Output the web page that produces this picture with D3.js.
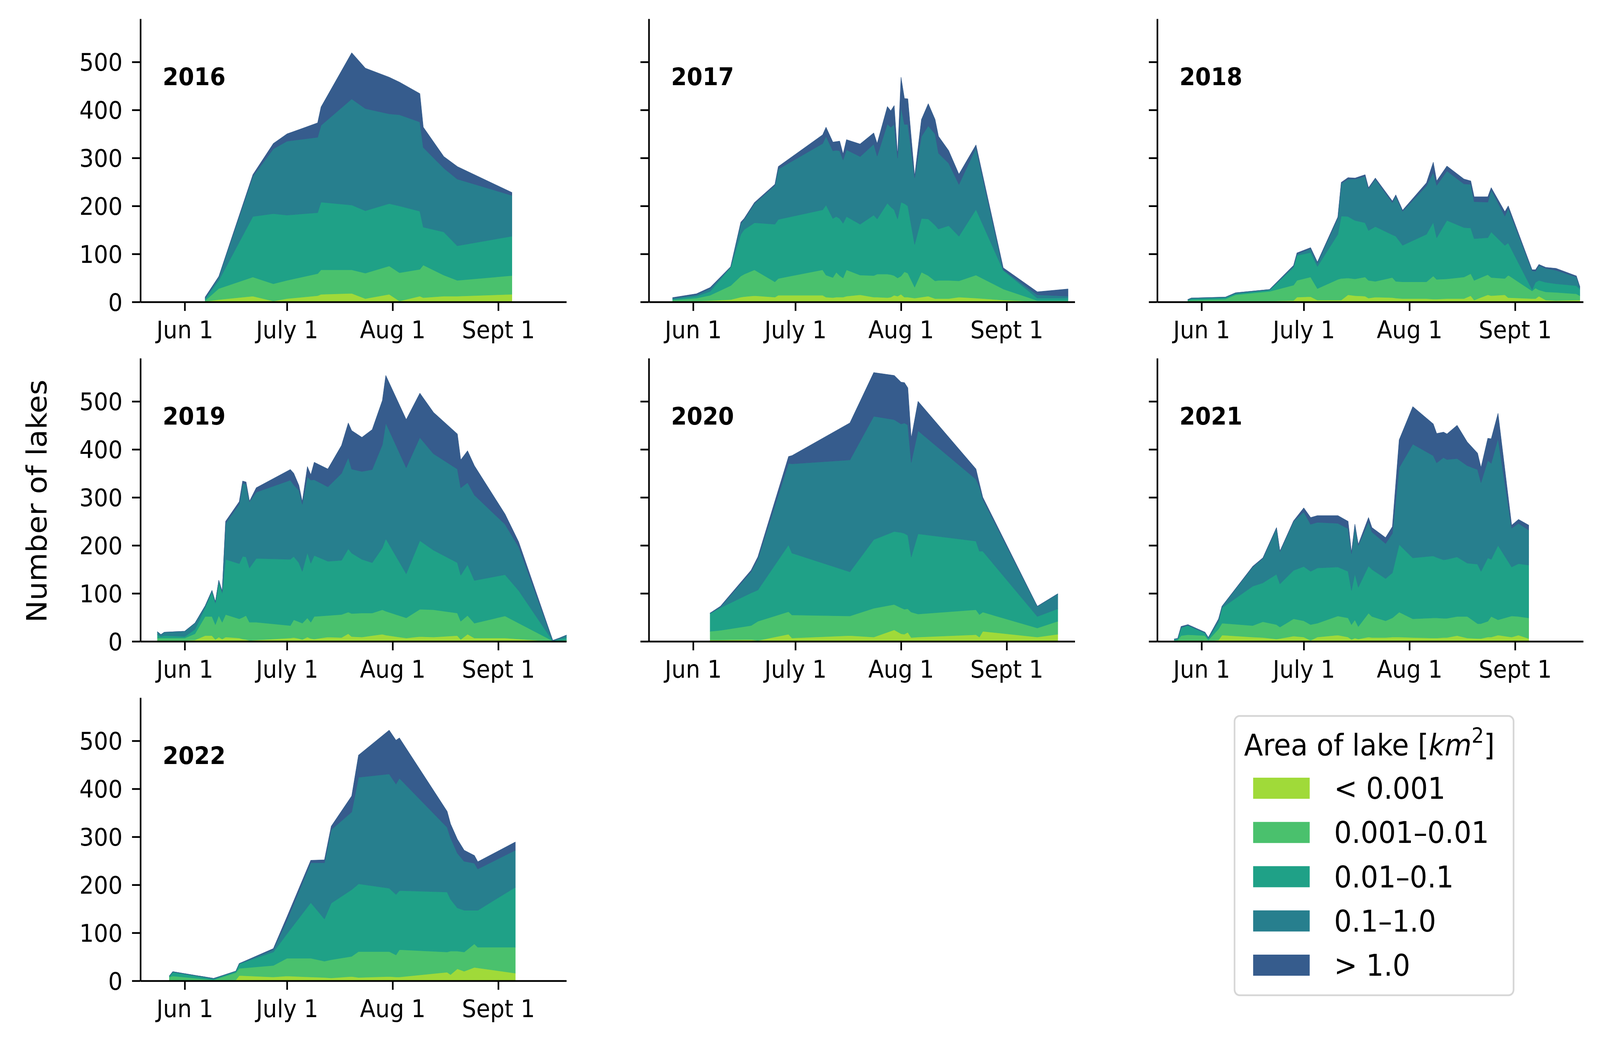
<!DOCTYPE html>
<html>
<head>
<meta charset="utf-8">
<script src="https://cdn.jsdelivr.net/npm/d3@7/dist/d3.min.js"></script>
<style>
  html, body { margin: 0; padding: 0; background: #fff; overflow: hidden; }
  svg { display: block; width: 100vw; height: 100vh; font-family: "DejaVu Sans", sans-serif; }
</style>
</head>
<body>
<svg id="chart" viewBox="0 0 4387 2660" preserveAspectRatio="none"></svg>
<script>
// Lake counts per area class, one stack panel per melt season.
// Days are counted from June 1 (0 = Jun 1, 30 = July 1, 61 = Aug 1, 92 = Sept 1).

const classes = ["< 0.001", "0.001–0.01", "0.01–0.1", "0.1–1.0", "> 1.0"];
const classColors = ["#a0da39", "#4ac16d", "#1fa187", "#277f8e", "#365c8d"];

const monthTicks = [0, 30, 61, 92];
const monthLabels = ["Jun 1", "July 1", "Aug 1", "Sept 1"];
const countTicks = [0, 100, 200, 300, 400, 500];
const dayDomain = [-13, 112];
const countDomain = [0, 590];

// each row: [< 0.001, 0.001–0.01, 0.01–0.1, 0.1–1.0, > 1.0]
const days2016 = [6, 10, 20, 26, 30, 39, 40, 49, 53, 60, 63, 69, 70, 76, 80, 96];
const lakes2016 = [
  [1, 2, 3, 2, 2], [5, 23, 17, 7, 1], [12, 40, 126, 84, 3], [2, 36, 146, 135, 11],
  [7, 38, 136, 154, 15], [13, 46, 127, 157, 30], [16, 51, 141, 160, 38], [18, 49, 135, 221, 96],
  [7, 53, 130, 213, 84], [16, 59, 130, 187, 76], [2, 59, 139, 190, 68], [12, 56, 121, 186, 59],
  [9, 68, 79, 166, 42], [12, 44, 90, 133, 24], [12, 33, 72, 139, 26], [16, 39, 82, 85, 6]
];

const days2017 = [-6, 1, 5, 11, 14, 15, 18, 24, 25, 38, 39, 41, 42, 43, 44, 45, 49, 53, 54, 57, 58,
  59, 60, 61, 62, 63, 65, 67, 69, 71, 72, 75, 78, 83, 91, 101, 110];
const lakes2017 = [
  [1, 3, 2, 2, 1], [2, 6, 4, 3, 2], [3, 11, 8, 6, 2], [5, 29, 38, 1, 0], [10, 44, 87, 23, 2],
  [11, 47, 93, 21, 2], [13, 54, 98, 40, 2], [10, 32, 120, 81, 2], [14, 35, 123, 105, 5],
  [14, 53, 125, 138, 18], [10, 46, 146, 143, 19], [9, 42, 123, 141, 18], [10, 52, 116, 138, 18],
  [10, 45, 119, 141, 20], [10, 40, 114, 132, 12], [12, 55, 111, 139, 21], [15, 41, 106, 141, 26],
  [10, 45, 126, 148, 23], [10, 48, 115, 131, 26], [9, 49, 148, 165, 36], [10, 47, 141, 166, 34],
  [14, 41, 137, 178, 39], [12, 38, 123, 127, 5], [16, 38, 154, 198, 62], [10, 53, 142, 165, 54],
  [10, 50, 140, 170, 53], [8, 23, 89, 139, 3], [10, 52, 112, 171, 35], [12, 43, 118, 194, 46],
  [7, 37, 116, 190, 30], [7, 38, 107, 158, 35], [7, 38, 114, 130, 26], [10, 34, 93, 108, 21],
  [8, 48, 137, 128, 6], [4, 23, 39, 1, 4], [1, 2, 5, 7, 6], [1, 2, 5, 4, 15]
];

const days2018 = [-4, -3, 7, 10, 20, 27, 28, 32, 34, 40, 41, 43, 45, 48, 49, 51, 56, 57, 59, 66, 68,
  69, 72, 77, 79, 80, 84, 85, 89, 90, 97, 98, 99, 101, 104, 110, 111];
const lakes2018 = [
  [1, 2, 1, 1, 0], [1, 3, 3, 1, 0], [1, 5, 3, 1, 0], [2, 13, 2, 2, 0], [2, 20, 3, 1, 0],
  [3, 32, 37, 3, 1], [10, 35, 52, 3, 2], [11, 41, 51, 8, 2], [4, 24, 46, 7, 2], [4, 43, 94, 34, 2],
  [4, 45, 130, 68, 2], [15, 35, 128, 78, 3], [13, 35, 122, 86, 2], [12, 40, 113, 97, 3],
  [8, 37, 104, 87, 2], [10, 33, 114, 99, 2], [9, 42, 89, 67, 3], [8, 35, 94, 83, 3], [7, 35, 76, 71, 2],
  [7, 35, 99, 101, 6], [6, 48, 112, 104, 21], [6, 41, 87, 109, 9], [7, 41, 122, 103, 10],
  [7, 45, 103, 91, 10], [13, 46, 95, 91, 7], [4, 41, 87, 77, 10], [15, 42, 77, 74, 11],
  [13, 38, 95, 88, 4], [15, 34, 69, 61, 9], [9, 47, 67, 72, 5], [7, 16, 3, 39, 2], [7, 22, 12, 23, 3],
  [12, 13, 20, 31, 2], [4, 17, 20, 29, 2], [3, 17, 18, 28, 4], [4, 13, 17, 18, 2], [4, 9, 14, 4, 1]
];

const days2019 = [-8, -7, -6, 0, 3, 6, 8, 9, 10, 11, 12, 16, 17, 18, 19, 21, 31, 32, 33.5, 34.5, 36,
  37, 38, 42, 46, 48, 49, 52, 55, 58, 59, 65, 69, 73, 80, 81, 83, 85, 94, 98, 108, 110, 112];
const lakes2019 = [
  [2, 5, 7, 6, 0], [2, 5, 3, 4, 0], [2, 5, 5, 7, 0], [2, 5, 3, 11, 0], [3, 13, 9, 13, 0],
  [12, 40, 18, 4, 0], [12, 40, 51, 3, 0], [4, 31, 45, 2, 0], [9, 45, 70, 3, 0], [5, 35, 61, 3, 0],
  [9, 47, 115, 75, 4], [7, 40, 115, 124, 5], [5, 45, 127, 152, 5], [4, 50, 122, 152, 4],
  [2, 38, 113, 138, 1], [3, 37, 133, 138, 9], [7, 26, 138, 165, 22], [8, 37, 132, 149, 24],
  [6, 35, 123, 151, 10], [4, 34, 108, 140, 5], [9, 40, 136, 158, 21], [6, 34, 123, 173, 11],
  [5, 47, 127, 158, 36], [9, 45, 113, 155, 37], [8, 48, 113, 181, 58], [16, 45, 132, 190, 72],
  [10, 48, 126, 175, 80], [9, 50, 112, 183, 71], [12, 47, 105, 194, 83], [15, 51, 129, 215, 92],
  [13, 50, 151, 241, 99], [7, 42, 92, 221, 100], [10, 57, 143, 215, 92], [9, 57, 124, 201, 86],
  [12, 47, 105, 195, 73], [4, 38, 96, 182, 58], [15, 39, 106, 171, 66], [7, 31, 89, 178, 61],
  [7, 46, 86, 105, 21], [5, 33, 68, 91, 10], [0, 1, 0, 1, 0], [0, 2, 3, 2, 0], [0, 3, 5, 5, 0]
];

const days2020 = [5, 8, 17, 19, 28, 29, 46, 53, 59, 61, 62, 63, 64, 66, 83, 84, 85, 101, 107];
const lakes2020 = [
  [3, 18, 37, 1, 0], [3, 20, 47, 2, 1], [4, 29, 68, 44, 3], [2, 40, 65, 65, 4], [15, 47, 139, 170, 14],
  [7, 48, 129, 186, 17], [12, 41, 92, 233, 77], [9, 60, 143, 257, 91], [24, 53, 152, 233, 92],
  [16, 54, 157, 226, 87], [15, 52, 158, 230, 84], [19, 49, 153, 230, 77], [8, 53, 115, 197, 50],
  [9, 48, 167, 215, 61], [14, 52, 143, 129, 21], [9, 47, 132, 134, 7], [21, 40, 127, 108, 4],
  [9, 19, 24, 21, 0], [15, 27, 26, 31, 0]
];

const days2021 = [-8, -7, -6, -4, 1, 2, 5, 6, 15, 18, 22, 23, 27, 30, 32, 34, 40, 43, 44, 45, 46, 49,
  50, 54, 56, 58, 62, 68, 69, 71, 72, 75, 78, 81, 82, 84, 85, 87, 91, 93, 96];
const lakes2021 = [
  [1, 1, 2, 1, 0], [1, 2, 2, 1, 0], [2, 10, 16, 2, 1], [2, 12, 19, 1, 1], [2, 10, 5, 2, 0],
  [1, 2, 3, 2, 0], [3, 23, 14, 6, 1], [13, 25, 32, 3, 0], [9, 24, 82, 40, 1], [8, 33, 81, 51, 1],
  [5, 30, 105, 96, 1], [6, 24, 90, 67, 1], [11, 36, 101, 102, 1], [9, 34, 113, 114, 8],
  [2, 33, 111, 98, 14], [9, 29, 115, 95, 14], [13, 40, 102, 91, 16], [9, 40, 97, 89, 15],
  [4, 31, 71, 77, 2], [7, 38, 96, 99, 4], [5, 26, 82, 87, 2], [9, 50, 98, 92, 9], [8, 44, 98, 78, 9],
  [8, 35, 88, 73, 12], [9, 40, 94, 82, 14], [9, 52, 141, 160, 58], [8, 39, 127, 237, 78],
  [7, 42, 129, 209, 66], [7, 42, 126, 197, 61], [8, 40, 122, 213, 53], [8, 40, 123, 208, 53],
  [12, 40, 124, 205, 69], [7, 45, 111, 203, 49], [6, 31, 124, 197, 34], [6, 31, 109, 185, 31],
  [9, 33, 132, 203, 46], [9, 43, 119, 200, 51], [13, 32, 155, 223, 52], [9, 44, 102, 81, 6],
  [13, 39, 110, 84, 8], [6, 43, 110, 73, 10]
];

const days2022 = [-4.5, -3.5, 8.5, 15, 16, 26, 30, 37, 41, 43, 49, 51, 60, 62, 63, 77, 78, 80, 82, 85, 86, 97];
const lakes2022 = [
  [1, 7, 2, 0, 0], [1, 9, 8, 1, 0], [0, 2, 2, 1, 0], [2, 15, 3, 0, 0], [11, 15, 9, 1, 0],
  [8, 24, 28, 5, 2], [10, 37, 51, 28, 7], [8, 39, 116, 83, 5], [7, 34, 88, 117, 6],
  [6, 38, 118, 153, 7], [9, 42, 139, 162, 33], [7, 54, 141, 222, 46], [9, 52, 132, 238, 91],
  [8, 46, 126, 230, 91], [8, 57, 123, 234, 84], [18, 42, 125, 135, 33], [13, 49, 108, 128, 29],
  [25, 37, 90, 114, 29], [20, 40, 87, 102, 23], [28, 49, 70, 98, 16], [27, 43, 77, 86, 15],
  [16, 54, 125, 77, 17]
];

const panels = [
  { year: "2016", days: days2016, lakes: lakes2016 },
  { year: "2017", days: days2017, lakes: lakes2017 },
  { year: "2018", days: days2018, lakes: lakes2018 },
  { year: "2019", days: days2019, lakes: lakes2019 },
  { year: "2020", days: days2020, lakes: lakes2020 },
  { year: "2021", days: days2021, lakes: lakes2021 },
  { year: "2022", days: days2022, lakes: lakes2022 }
];

// ---- layout (viewBox units) ----
const colLeft = [385, 1779, 3173];
const rowBottom = [773, 1642, 2511];
const plotW = 1168, plotH = 725;
const tickFont = 62, bigFont = 76;

const svg = d3.select("#chart");

const x = d3.scaleLinear().domain(dayDomain).range([0, plotW]);
const y = d3.scaleLinear().domain(countDomain).range([plotH, 0]);

const stack = d3.stack()
  .keys(d3.range(classes.length))
  .value((row, k) => row.counts[k]);

const area = d3.area()
  .x((d) => x(d.data.day))
  .y0((d) => y(d[0]))
  .y1((d) => y(d[1]));

panels.forEach((p, i) => {
  const col = i % 3, row = Math.floor(i / 3);
  const g = svg.append("g")
    .attr("transform", `translate(${colLeft[col]},${rowBottom[row] - plotH})`);

  const rows = p.days.map((day, j) => ({ day, counts: p.lakes[j] }));
  const layers = stack(rows);

  g.selectAll("path.layer")
    .data(layers)
    .join("path")
    .attr("class", "layer")
    .attr("fill", (d, k) => classColors[k])
    .attr("stroke", (d, k) => classColors[k])
    .attr("stroke-width", 1.2)
    .attr("stroke-linejoin", "round")
    .attr("d", area);

  // Year tag, bold, upper left
  g.append("text")
    .attr("x", 61)
    .attr("y", 170)
    .attr("font-size", tickFont)
    .attr("font-weight", "bold")
    .text(p.year);

  // Axes (y labels only in first column, like sharey)
  const yAxis = d3.axisLeft(y)
    .tickValues(countTicks)
    .tickSize(23)
    .tickSizeOuter(0)
    .tickPadding(26)
    .tickFormat(col === 0 ? d3.format("d") : () => "");
  const xAxis = d3.axisBottom(x)
    .tickValues(monthTicks)
    .tickSize(23)
    .tickSizeOuter(0)
    .tickPadding(26)
    .tickFormat((d, k) => monthLabels[k]);

  const ya = g.append("g").call(yAxis);
  const xa = g.append("g").attr("transform", `translate(0,${plotH})`).call(xAxis);

  [ya, xa].forEach((a) => {
    a.attr("font-family", "DejaVu Sans, sans-serif").attr("font-size", tickFont);
    a.selectAll("path, line").attr("stroke", "#000").attr("stroke-width", 4.5);
    a.selectAll("text").attr("fill", "#000");
  });
  ya.selectAll("text").attr("dy", "0.36em");
});

// Shared y label
svg.append("text")
  .attr("transform", "translate(127,1283) rotate(-90)")
  .attr("text-anchor", "middle")
  .attr("font-size", bigFont)
  .text("Number of lakes");

// ---- legend ----
const legend = svg.append("g");
legend.append("rect")
  .attr("x", 3385).attr("y", 1833)
  .attr("width", 765).attr("height", 715)
  .attr("rx", 14)
  .attr("fill", "#fff")
  .attr("stroke", "#d6d6d6")
  .attr("stroke-width", 4.5);

const title = legend.append("text")
  .attr("x", 3411).attr("y", 1934)
  .attr("font-size", bigFont);
title.append("tspan").text("Area of lake [");
title.append("tspan").attr("font-style", "italic").text("km");
title.append("tspan").attr("font-size", 53).attr("dy", -33).text("2");
title.append("tspan").attr("dy", 33).text("]");

const entryY = d3.scalePoint().domain(classes).range([2018, 2471]);
const entries = legend.selectAll("g.entry")
  .data(classes)
  .join("g")
  .attr("class", "entry")
  .attr("transform", (d) => `translate(0,${entryY(d)})`);

entries.append("rect")
  .attr("x", 3436).attr("y", -27)
  .attr("width", 155).attr("height", 54)
  .attr("fill", (d, k) => classColors[k]);

entries.append("text")
  .attr("x", 3658).attr("y", 27)
  .attr("font-size", bigFont)
  .text((d) => d);
</script>
</body>
</html>
